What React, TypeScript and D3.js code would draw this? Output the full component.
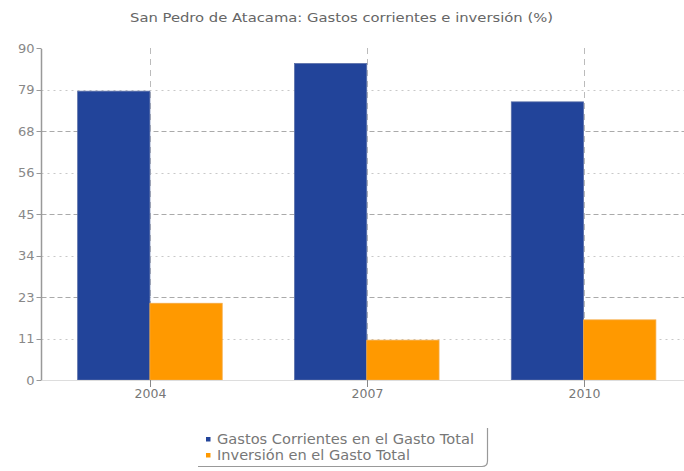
import React from "react";
import * as d3 from "d3";

const categories = ["2004", "2007", "2010"];
const gastosCorrientes = [78.3, 85.8, 75.4];
const inversion = [20.8, 10.8, 16.3];
const seriesNames = ["Gastos Corrientes en el Gasto Total", "Inversión en el Gasto Total"];
const yTickValues = [0, 11.25, 22.5, 33.75, 45, 56.25, 67.5, 78.75, 90];
const yTickLabels = ["0", "11", "23", "34", "45", "56", "68", "79", "90"];
const title = "San Pedro de Atacama: Gastos corrientes e inversión (%)";

const W = 684;
const H = 471;
const left = 41.5;
const right = 692;
const top = 48;
const bottom = 380;
const colors = ["#22449A", "#FF9900"];
const font = "Tahoma, 'DejaVu Sans', Verdana, sans-serif";
const legendWidths = [257, 193];

export default function App() {
  const x = d3.scaleBand<string>().domain(categories).range([left, right]).paddingInner(0).paddingOuter(0);
  const inner = d3.scaleBand<string>().domain(["0", "1"]).range([0, x.bandwidth()]).paddingInner(0).paddingOuter(0.5);
  const y = d3.scaleLinear().domain([0, 90]).range([bottom, top]);
  const series = [gastosCorrientes, inversion];

  return (
    <svg width={W} height={H} style={{ position: "absolute", left: 0, top: 0, background: "#fff" }}>
      <text
        x={130}
        y={22}
        textLength={423}
        lengthAdjust="spacingAndGlyphs"
        fontFamily={font}
        fontSize={13}
        fill="#666"
      >
        {title}
      </text>
      {yTickValues.slice(1, -1).map((v, i) => (
        <line
          key={"g" + i}
          x1={left}
          x2={W}
          y1={Math.round(y(v)) + 0.5}
          y2={Math.round(y(v)) + 0.5}
          stroke={i % 2 === 1 ? "#aaa" : "#c8c8c8"}
          strokeWidth={1}
          strokeDasharray={i % 2 === 1 ? "5,3" : "2,4"}
        />
      ))}
      {categories.map((c) => {
        const cx = Math.round((x(c) ?? 0) + x.bandwidth() / 2) + 0.5;
        return (
          <line key={"v" + c} x1={cx} x2={cx} y1={top} y2={bottom} stroke="#bbb" strokeDasharray="6,5" />
        );
      })}
      {categories.map((c, ci) =>
        series.map((s, si) => {
          const bx = (x(c) ?? 0) + (inner(String(si)) ?? 0);
          const by = y(s[ci]);
          return (
            <rect
              key={c + si}
              x={bx}
              y={by}
              width={inner.bandwidth()}
              height={bottom - by}
              fill={colors[si]}
              stroke={si === 0 ? "#5a6fa8" : "#f5a940"}
              strokeWidth={0.8}
            />
          );
        })
      )}
      <line x1={left} x2={W} y1={bottom + 0.5} y2={bottom + 0.5} stroke="#ddd" />
      {categories.map((c) => {
        const cx = Math.round((x(c) ?? 0) + x.bandwidth() / 2) + 0.5;
        return (
          <g key={"xt" + c}>
            <line x1={cx} x2={cx} y1={bottom} y2={bottom + 7} stroke="#888" />
            <text x={cx} y={bottom + 18} textAnchor="middle" fontFamily={font} fontSize={12.5} fill="#777">
              {c}
            </text>
          </g>
        );
      })}
      <line x1={left} x2={left} y1={top + 1} y2={bottom} stroke="#999" strokeWidth={1.5} />
      {yTickValues.map((v, i) => (
        <g key={"yt" + i}>
          <line x1={left - 5} x2={left} y1={Math.round(y(v)) + 0.5} y2={Math.round(y(v)) + 0.5} stroke="#999" />
          <text
            x={left - 7}
            y={y(v)}
            dy="0.35em"
            textAnchor="end"
            fontFamily={font}
            fontSize={13}
            fill="#888"
          >
            {yTickLabels[i]}
          </text>
        </g>
      ))}
      <path
        d="M 198 466.5 L 482 466.5 Q 487.5 466.5 487.5 461 L 487.5 428"
        fill="none"
        stroke="#999"
        strokeWidth={1.2}
      />
      {seriesNames.map((n, i) => (
        <g key={"lg" + i}>
          <rect x={206} y={437 + i * 16} width={4.5} height={4.5} fill={colors[i]} />
          <text
            x={217}
            y={443.5 + i * 16}
            textLength={legendWidths[i]}
            lengthAdjust="spacingAndGlyphs"
            fontFamily={font}
            fontSize={13.5}
            fill="#777"
          >
            {n}
          </text>
        </g>
      ))}
    </svg>
  );
}
